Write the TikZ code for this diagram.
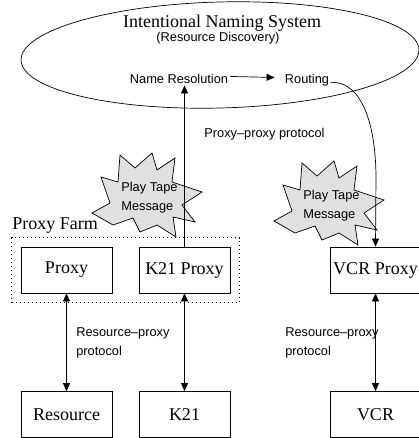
\documentclass[tikz,border=0pt]{standalone}
\usepackage{fontspec}
\setmainfont{Liberation Serif}
\setsansfont{Liberation Sans}
\usetikzlibrary{arrows.meta,fit}

\definecolor{burstgray}{RGB}{224,224,224}
\tikzset{
	box/.style={draw, minimum width=91pt, minimum height=46pt, inner sep=0pt, font=\fontsize{18}{21}\selectfont},
	lbl/.style={inner sep=1pt, font=\sffamily\fontsize{12.8}{19}\selectfont},
	pics/burst/.style={code={
		\draw[fill=burstgray] (-56,17) -- (-38,7) -- (-47,-19) -- (-30,-14) -- (-28,-41) -- (-13,-28)
			-- (4,-43) -- (9,-26) -- (27,-38) -- (24,-14) -- (54,-4) -- (34,9) -- (47,26) -- (25,21)
			-- (28,41) -- (9,29) -- (-8,36) -- (-15,22) -- (-35,29) -- cycle;
	}}
}

\begin{document}
\begin{tikzpicture}[x=1pt, y=-1pt, line width=0.7pt, >={Triangle[length=8pt,width=7pt]}]
	\useasboundingbox (0,0) rectangle (419,438);
	% Naming system
	\draw[rotate around={1.5:(220,55)}] (220,55) ellipse [x radius=199, y radius=53];
	\node[anchor=base, inner sep=1pt, font=\fontsize{18}{21}\selectfont] (ins) at (222,28) {Intentional Naming System};
	\node[lbl, anchor=base] (disc) at (218,42) {(Resource Discovery)};
	\node[lbl, anchor=base] (nameres) at (179,84) {Name Resolution};
	\node[lbl, anchor=base] (routing) at (307,84) {Routing};
	% Boxes
	\node[box] (proxy) at (66.5,270) {Proxy};
	\node[box] (k21proxy) at (184.5,270) {K21 Proxy};
	\node[box] (vcrproxy) at (375.5,270) {VCR Proxy};
	\node[box] (resource) at (66.5,414.5) {Resource};
	\node[box] (k21) at (184.5,414.5) {K21};
	\node[box] (vcr) at (375.5,414.5) {VCR};
	% Proxy farm
	\node[fit=(proxy)(k21proxy), draw, dash pattern=on 1pt off 3pt, inner sep=9pt] (farm) {};
	\node[anchor=base west, inner sep=0pt, font=\fontsize{18}{21}\selectfont] (farmlbl) at (12,229) {Proxy Farm};
	% Messages
	\pic at (148,196) {burst};
	\node[lbl, align=left, anchor=west] (msg1) at (120,198) {Play Tape\\Message};
	\pic at (330,204) {burst};
	\node[lbl, align=left, anchor=west] (msg2) at (302,206) {Play Tape\\Message};
	% Proxy-proxy protocol
	\draw[->] (k21proxy.north) -- (k21proxy.north |- nameres.south);
	\draw[->, shorten <=1pt, shorten >=9pt] ([yshift=3pt]nameres.east) -- ([yshift=3pt]routing.west);
	\draw[->] ([yshift=-2pt]routing.east) .. controls (355,80) and (375,110) .. (376,175) -- (vcrproxy.north);
	\node[lbl, anchor=base west] (pp) at (203,138) {Proxy--proxy protocol};
	% Resource-proxy protocol
	\draw[<->] (proxy.south) -- (resource.north);
	\draw[<->] (k21proxy.south) -- (k21.north);
	\draw[<->] (vcrproxy.south) -- (vcr.north);
	\node[lbl, align=left, anchor=west] (rp1) at (75,343) {Resource--proxy\\protocol};
	\node[lbl, align=left, anchor=west] (rp2) at (284,343) {Resource--proxy\\protocol};
\end{tikzpicture}
\end{document}
